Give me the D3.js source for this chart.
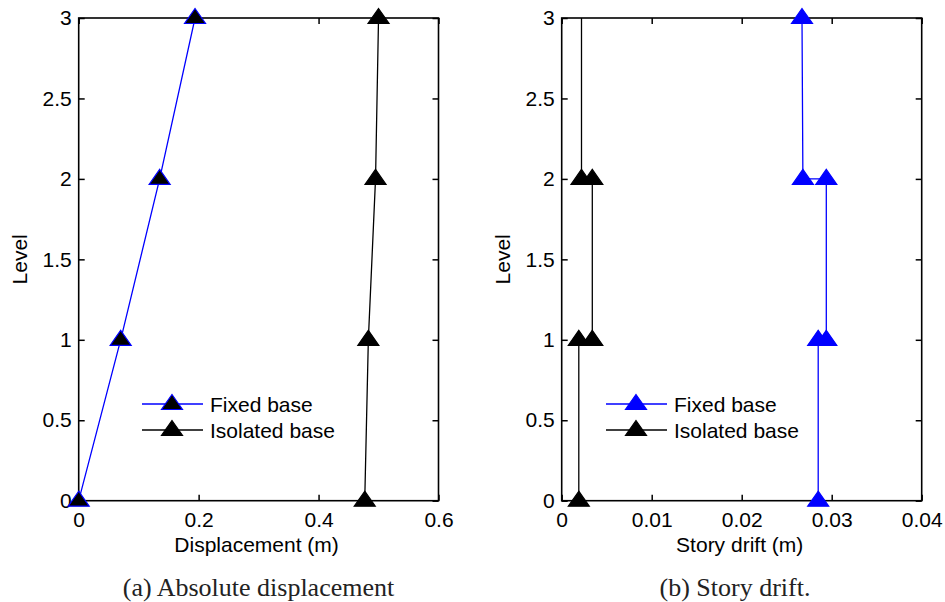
<!DOCTYPE html>
<html>
<head>
  <meta charset="UTF-8">
  <title>Displacement and story drift</title>
  <style>
    body { margin: 0; background: #fff; }
    svg text { font-family: "Liberation Sans", Arial, sans-serif; }
    .caption { font-family: "Liberation Serif", "Times New Roman", serif; }
  </style>
</head>
<body>
<svg></svg>

<script src="https://d3js.org/d3.v7.min.js"></script>
<script>

let width = 945, height = 602;

// data
const levels = [0, 1, 2, 3];
const dispFixed = [0, 0.070, 0.135, 0.194];
const dispIsolated = [0.477, 0.483, 0.495, 0.500];

const driftLevels = [0, 1, 1, 2, 2, 3];
const driftFixed = [0.0285, 0.0285, 0.0294, 0.0294, 0.0268, 0.0267];
const driftIsolated = [0.0019, 0.0019, 0.0034, 0.0034, 0.0022, 0.0022];

const dispTicks = [0, 0.2, 0.4, 0.6];
const driftTicks = [0, 0.01, 0.02, 0.03, 0.04];
const levelTicks = [0, 0.5, 1, 1.5, 2, 2.5, 3];
const legendNames = ["Fixed base", "Isolated base"];

let svg = d3.select("svg")
    .attr("width", width)
    .attr("height", height);

svg.append("rect").attr("width", width).attr("height", height).attr("fill", "#fff");

const yTop = 18, yBottom = 500.7;
const fmt = d3.format("~g");

// MATLAB style '^' marker, centred on the point
function tri(x, y) {
    return "M" + x + "," + (y - 9.5) + "L" + (x + 10.5) + "," + (y + 5.5) + "L" + (x - 10.5) + "," + (y + 5.5) + "Z";
}

function drawPanel(p) {
    let x = d3.scaleLinear().domain(p.xDomain).range([p.left, p.right]);
    let y = d3.scaleLinear().domain([0, 3]).range([yBottom, yTop]);
    let g = svg.append("g");

    // inward ticks on all four sides
    g.append("g").attr("transform", "translate(0," + yBottom + ")")
        .call(d3.axisBottom(x).tickValues(p.xTicks).tickFormat(fmt).tickSizeInner(-6).tickSizeOuter(0).tickPadding(11));
    g.append("g").attr("transform", "translate(0," + yTop + ")")
        .call(d3.axisTop(x).tickValues(p.xTicks).tickFormat("").tickSizeInner(-6).tickSizeOuter(0));
    g.append("g").attr("transform", "translate(" + p.left + ",0)")
        .call(d3.axisLeft(y).tickValues(levelTicks).tickFormat(fmt).tickSizeInner(-6).tickSizeOuter(0).tickPadding(7));
    g.append("g").attr("transform", "translate(" + p.right + ",0)")
        .call(d3.axisRight(y).tickValues(levelTicks).tickFormat("").tickSizeInner(-6).tickSizeOuter(0));

    g.selectAll(".domain").remove();
    g.selectAll(".tick line").attr("stroke", "#000").attr("stroke-width", 1.5);
    g.selectAll(".tick text").attr("font-size", 21).attr("fill", "#000");

    g.append("rect")
        .attr("x", p.left).attr("y", yTop)
        .attr("width", p.right - p.left).attr("height", yBottom - yTop)
        .attr("fill", "none").attr("stroke", "#000").attr("stroke-width", 1.6);

    // labels
    g.append("text")
        .attr("x", (p.left + p.right) / 2 - 2).attr("y", 552)
        .attr("text-anchor", "middle").attr("font-size", 21)
        .text(p.xLabel);
    g.append("text")
        .attr("transform", "translate(" + (p.left - 52) + "," + ((yTop + yBottom) / 2) + ") rotate(-90)")
        .attr("text-anchor", "middle").attr("font-size", 21)
        .text("Level");
    g.append("text").attr("class", "caption")
        .attr("x", p.captionX).attr("y", 596)
        .attr("text-anchor", "middle").attr("font-size", 26).attr("fill", "#222")
        .text(p.caption);

    // clip lines to the axes box
    let clipId = "clip" + p.id;
    svg.append("clipPath").attr("id", clipId).append("rect")
        .attr("x", p.left).attr("y", yTop).attr("width", p.right - p.left).attr("height", yBottom - yTop);

    let line = d3.line().x(d => x(d[0])).y(d => y(d[1]));

    p.series.forEach(s => {
        let pts = s.xs.map((v, i) => [v, s.ys[i]]);
        g.append("path")
            .datum(pts)
            .attr("d", line)
            .attr("fill", "none")
            .attr("stroke", s.color)
            .attr("stroke-width", 1.3)
            .attr("clip-path", "url(#" + clipId + ")");
        let markPts = s.skipLastMarker ? pts.slice(0, -1) : pts;
        g.selectAll(null).data(markPts).enter()
            .append("path")
            .attr("d", d => tri(x(d[0]), y(d[1])))
            .attr("fill", s.fill)
            .attr("stroke", s.color)
            .attr("stroke-width", 1.2);
    });

    // legend
    p.series.forEach((s, i) => {
        let ly = 404 + i * 26;
        g.append("line")
            .attr("x1", p.legX).attr("x2", p.legX + 61)
            .attr("y1", ly).attr("y2", ly)
            .attr("stroke", s.color).attr("stroke-width", 1.3);
        g.append("path")
            .attr("d", tri(p.legX + 30, ly))
            .attr("fill", s.fill).attr("stroke", s.color).attr("stroke-width", 1.2);
        g.append("text")
            .attr("x", p.legX + 68).attr("y", ly + 7.5)
            .attr("font-size", 21)
            .text(legendNames[i]);
    });
}

drawPanel({
    id: "a",
    left: 78.7, right: 438.5,
    xDomain: [0, 0.6], xTicks: dispTicks,
    xLabel: "Displacement (m)",
    caption: "(a) Absolute displacement", captionX: 258.5,
    legX: 142,
    series: [
        { xs: dispFixed, ys: levels, color: "#0000ff", fill: "#000" },
        { xs: dispIsolated, ys: levels, color: "#000", fill: "#000" }
    ]
});

drawPanel({
    id: "b",
    left: 561.7, right: 921.7,
    xDomain: [0, 0.04], xTicks: driftTicks,
    xLabel: "Story drift (m)",
    caption: "(b) Story drift.", captionX: 735,
    legX: 606,
    series: [
        { xs: driftFixed, ys: driftLevels, color: "#0000ff", fill: "#0000ff" },
        { xs: driftIsolated, ys: driftLevels, color: "#000", fill: "#000", skipLastMarker: true }
    ]
});

</script>
</body>
</html>
